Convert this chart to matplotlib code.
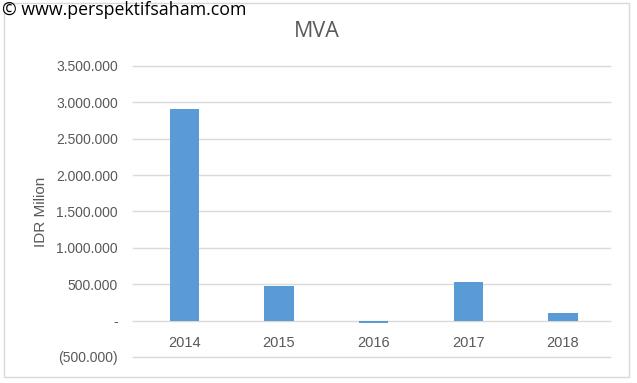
import matplotlib.pyplot as plt
from matplotlib.patches import Rectangle
from matplotlib.ticker import FuncFormatter

years = ['2014', '2015', '2016', '2017', '2018']
mva = [2905000, 480000, -30000, 535000, 100000]
yticks = [-500000, 0, 500000, 1000000, 1500000, 2000000, 2500000, 3000000, 3500000]

plt.rcParams['font.family'] = ['Liberation Sans', 'DejaVu Sans']


def idr(v, pos):
    if v == 0:
        return '-'
    s = '{:,.0f}'.format(abs(v)).replace(',', '.')
    return '(' + s + ')' if v < 0 else s


fig = plt.figure(figsize=(6.37, 3.83), dpi=100)
ax = fig.add_axes([0.209, 0.068, 0.749, 0.760])

x = range(len(years))
ax.bar(x, mva, width=0.31, color='#5b9bd5', zorder=3)
ax.set_xlim(-0.54, 4.5)
ax.set_ylim(-500000, 3500000)
ax.set_yticks(yticks)
ax.yaxis.set_major_formatter(FuncFormatter(idr))
ax.grid(axis='y', color='#d9d9d9', linewidth=1, zorder=0)
for gl in ax.get_ygridlines():
    gl.set_clip_on(False)
ax.set_xticks([])
ax.tick_params(axis='y', length=0, pad=11, labelsize=10, labelcolor='#595959')
for s in ax.spines.values():
    s.set_visible(False)

for i, yr in enumerate(years):
    ax.annotate(yr, (i, 0), xytext=(0, -11), textcoords='offset points',
                ha='center', va='top', fontsize=10.5, color='#595959')

ax.set_ylabel('IDR Milion', fontsize=11, color='#595959', labelpad=6)
fig.text(0.497, 0.917, 'MVA', ha='center', va='center', fontsize=15.5, color='#595959',
         family=['Open Sans', 'DejaVu Sans'])
fig.text(0.003, 0.973, '\u00a9 www.perspektifsaham.com', ha='left', va='center',
         fontsize=12.8, color='black', family=['Open Sans', 'DejaVu Sans'])
fig.patches.append(Rectangle((0.0063, 0.0157), 0.981, 0.976, transform=fig.transFigure,
                             fill=False, edgecolor='#d9d9d9', linewidth=1, zorder=-1))

fig.savefig('out.png', dpi=100)
